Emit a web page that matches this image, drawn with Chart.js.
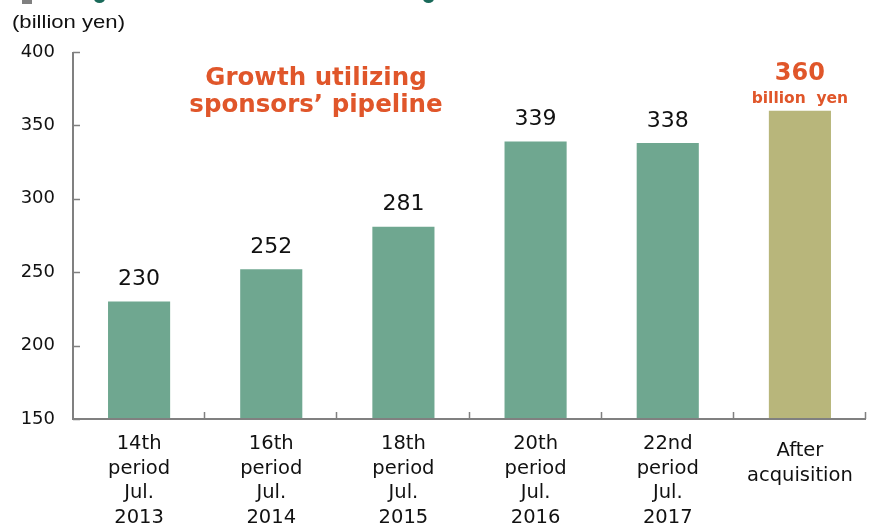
<!DOCTYPE html>
<html>
<head>
<meta charset="utf-8">
<script src="https://cdn.jsdelivr.net/npm/chart.js@4/dist/chart.umd.min.js"></script>
<style>
html,body{margin:0;padding:0;background:#fff;}
#wrap{position:relative;width:870px;height:525px;}
canvas{display:block;}
.deco{position:absolute;}
</style>
</head>
<body>
<div id="wrap">
<canvas id="c" width="870" height="525"></canvas>
<div class="deco" style="left:22px;top:0;width:10px;height:4px;background:#808080"></div>
<div class="deco" style="left:94px;top:-6px;width:11px;height:9px;border-radius:50%;background:#1a6a5a"></div>
<div class="deco" style="left:423px;top:-6px;width:11px;height:9px;border-radius:50%;background:#1a6a5a"></div>
</div>
<script>
const categories = [
  ["14th","period","Jul.","2013"],
  ["16th","period","Jul.","2014"],
  ["18th","period","Jul.","2015"],
  ["20th","period","Jul.","2016"],
  ["22nd","period","Jul.","2017"],
  ["After","acquisition"]
];
const assetValues = [230, 252, 281, 339, 338, 360];
const valueLabels = ["230","252","281","339","338",""];
const yTicks = [150, 200, 250, 300, 350, 400];
const unitLabel = "(billion yen)";
const noteLines = ["Growth utilizing","sponsors\u2019 pipeline"];
const finalLabel = ["360","billion  yen"];

const barColors = ["#6fa790","#6fa790","#6fa790","#6fa790","#6fa790","#b8b67b"];
const FONT = "'DejaVu Sans', Verdana, sans-serif";
const ORANGE = "#e0562a";
const AXIS = "#808080";

const overlay = {
  id: 'overlay',
  afterDatasetsDraw(chart) {
    const ctx = chart.ctx;
    const x = chart.scales.x, y = chart.scales.y;
    const area = chart.chartArea;
    ctx.save();
    // axes
    ctx.strokeStyle = AXIS;
    ctx.lineWidth = 2;
    ctx.beginPath();
    ctx.moveTo(area.left, area.top);
    ctx.lineTo(area.left, area.bottom);
    ctx.lineTo(area.right, area.bottom);
    ctx.stroke();
    ctx.lineWidth = 1.5;
    ctx.beginPath();
    yTicks.forEach(v => {
      const py = Math.round(y.getPixelForValue(v)) + 0.5;
      ctx.moveTo(area.left, py);
      ctx.lineTo(area.left + 7, py);
    });
    const step = x.getPixelForValue(1) - x.getPixelForValue(0);
    for (let i = 0; i < categories.length; i++) {
      const px = x.getPixelForValue(i) + step / 2;
      ctx.moveTo(Math.round(px) - 0.5, area.bottom);
      ctx.lineTo(Math.round(px) - 0.5, area.bottom - 7);
    }
    ctx.stroke();
    // category labels
    ctx.fillStyle = "#111";
    ctx.font = "19.5px " + FONT;
    ctx.textAlign = "center";
    ctx.textBaseline = "middle";
    categories.forEach((lines, i) => {
      const cx = x.getPixelForValue(i);
      const y0 = lines.length === 2 ? 451 : 444;
      lines.forEach((t, j) => ctx.fillText(t, cx, y0 + j * 24.5));
    });
    // value labels
    const meta = chart.getDatasetMeta(0);
    ctx.font = "22px " + FONT;
    meta.data.forEach((bar, i) => {
      if (valueLabels[i]) ctx.fillText(valueLabels[i], bar.x, bar.y - 22);
    });
    // final label
    const last = meta.data[meta.data.length - 1];
    ctx.fillStyle = ORANGE;
    ctx.font = "bold 24px " + FONT;
    ctx.fillText(finalLabel[0], last.x, last.y - 37);
    ctx.font = "bold 15.5px " + FONT;
    ctx.fillText(finalLabel[1], last.x, last.y - 12);
    // note
    ctx.font = "bold 24.5px " + FONT;
    const nx = 316;
    ctx.fillText(noteLines[0], nx, 79);
    ctx.fillText(noteLines[1], nx, 106);
    // unit label (narrow)
    ctx.fillStyle = "#111";
    ctx.font = "19px 'Liberation Sans Narrow', 'Liberation Sans', Arial, sans-serif";
    ctx.textAlign = "left";
    const w = ctx.measureText(unitLabel).width;
    ctx.translate(12, 23);
    ctx.scale(113 / w, 1);
    ctx.fillText(unitLabel, 0, 0);
    ctx.restore();
  }
};

new Chart(document.getElementById('c'), {
  type: 'bar',
  data: {
    labels: categories,
    datasets: [{
      data: assetValues,
      backgroundColor: barColors,
      borderWidth: 0,
      barPercentage: 0.47,
      categoryPercentage: 1.0
    }]
  },
  options: {
    responsive: false,
    animation: false,
    events: [],
    layout: { padding: { top: 52, right: 4, left: 0, bottom: 0 } },
    plugins: { legend: { display: false }, tooltip: { enabled: false }, title: { display: false } },
    scales: {
      x: {
        grid: { display: false, drawTicks: false },
        border: { display: false },
        ticks: { display: false },
        afterFit(s) { s.height = 106; }
      },
      y: {
        min: 150, max: 400,
        afterBuildTicks(s) { s.ticks = yTicks.map(v => ({ value: v })); },
        grid: { display: false, drawTicks: false },
        border: { display: false },
        ticks: {
          color: "#111",
          font: { family: FONT, size: 18 },
          padding: 18
        },
        afterFit(s) { s.width = 73; }
      }
    }
  },
  plugins: [overlay]
});
</script>
</body>
</html>
